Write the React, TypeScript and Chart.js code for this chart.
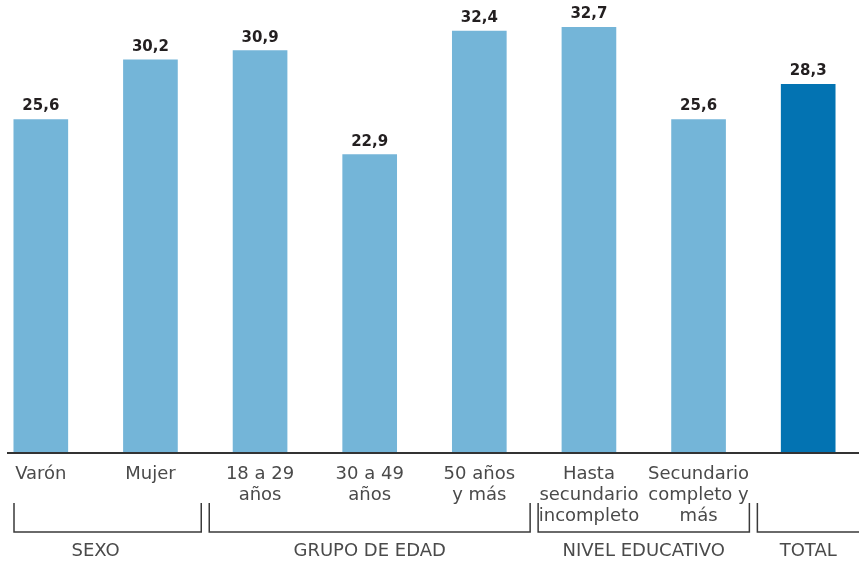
import React, { useEffect, useRef } from "react";
import { Chart, registerables } from "chart.js";

Chart.register(...registerables);

const categories: string[][] = [
  ["Varón"],
  ["Mujer"],
  ["18 a 29", "años"],
  ["30 a 49", "años"],
  ["50 años", "y más"],
  ["Hasta", "secundario", "incompleto"],
  ["Secundario", "completo y", "más"],
  [""],
];
const values: number[] = [25.6, 30.2, 30.9, 22.9, 32.4, 32.7, 25.6, 28.3];
const groupNames: string[] = ["SEXO", "GRUPO DE EDAD", "NIVEL EDUCATIVO", "TOTAL"];
const groupSizes: number[] = [2, 3, 2, 1];

const LIGHT = "#74b5d8";
const DARK = "#0373b2";
const OFFSET_X = 14;
const CANVAS_W = 877;
const CANVAS_H = 562;
const FONT = "'DejaVu Sans'";

export default function App() {
  const ref = useRef<HTMLCanvasElement>(null);

  useEffect(() => {
    document.body.style.margin = "0";
    const canvas = ref.current;
    if (!canvas) return;

    const decor = {
      id: "decor",
      afterDatasetsDraw(chart: any) {
        const ctx = chart.ctx as CanvasRenderingContext2D;
        const meta = chart.getDatasetMeta(0);
        const xs = chart.scales.x;
        const base = chart.chartArea.bottom;
        ctx.save();
        // value labels
        ctx.font = `700 15px ${FONT}`;
        ctx.fillStyle = "#231f20";
        ctx.textAlign = "center";
        ctx.textBaseline = "alphabetic";
        meta.data.forEach((bar: any, i: number) => {
          ctx.fillText(values[i].toFixed(1).replace(".", ","), bar.x, bar.y - 9);
        });
        // axis line
        ctx.strokeStyle = "#333";
        ctx.lineWidth = 2;
        ctx.beginPath();
        ctx.moveTo(7 + OFFSET_X, base + 1);
        ctx.lineTo(CANVAS_W, base + 1);
        ctx.stroke();
        // group brackets
        const slot = xs.getPixelForValue(1) - xs.getPixelForValue(0);
        const minLeft = 14 + OFFSET_X;
        let start = 0;
        ctx.lineWidth = 1.5;
        ctx.strokeStyle = "#3a3a3a";
        ctx.fillStyle = "#4a4a4a";
        ctx.font = `400 18px ${FONT}`;
        ctx.textBaseline = "middle";
        groupNames.forEach((name, g) => {
          const end = start + groupSizes[g] - 1;
          const isLast = g === groupNames.length - 1;
          const left = Math.max(minLeft, xs.getPixelForValue(start) - slot / 2 + 4);
          const right = isLast ? CANVAS_W + 5 : xs.getPixelForValue(end) + slot / 2 - 4;
          const top = 503;
          const bottom = 532;
          ctx.beginPath();
          ctx.moveTo(left, top);
          ctx.lineTo(left, bottom);
          ctx.lineTo(right, bottom);
          ctx.lineTo(right, top);
          ctx.stroke();
          const cx = (xs.getPixelForValue(start) + xs.getPixelForValue(end)) / 2;
          ctx.fillText(name, cx, 551);
          start = end + 1;
        });
        ctx.restore();
      },
    };

    const chart = new Chart(canvas, {
      type: "bar",
      data: {
        labels: categories,
        datasets: [
          {
            data: values,
            backgroundColor: values.map((_, i) => (i === values.length - 1 ? DARK : LIGHT)),
            barThickness: 54,
            borderWidth: 0,
          },
        ],
      },
      options: {
        animation: false,
        responsive: false,
        layout: { padding: 0 },
        plugins: {
          legend: { display: false },
          tooltip: { enabled: false },
          title: { display: false },
        },
        scales: {
          x: {
            grid: { display: false },
            border: { display: false },
            ticks: {
              autoSkip: false,
              maxRotation: 0,
              minRotation: 0,
              padding: 4,
              color: "#4a4a4a",
              font: { family: FONT, size: 18, lineHeight: 1.17 },
            },
            afterFit(scale: any) {
              scale.height = 110;
            },
          },
          y: {
            display: false,
            min: 0,
            max: 34.8,
          },
        },
      },
      plugins: [decor],
    });

    return () => chart.destroy();
  }, []);

  return (
    <div style={{ position: "relative", width: 859, height: 562, overflow: "hidden" }}>
      <canvas
        ref={ref}
        width={CANVAS_W}
        height={CANVAS_H}
        style={{ position: "absolute", left: -OFFSET_X, top: 0, width: CANVAS_W, height: CANVAS_H }}
      />
    </div>
  );
}
